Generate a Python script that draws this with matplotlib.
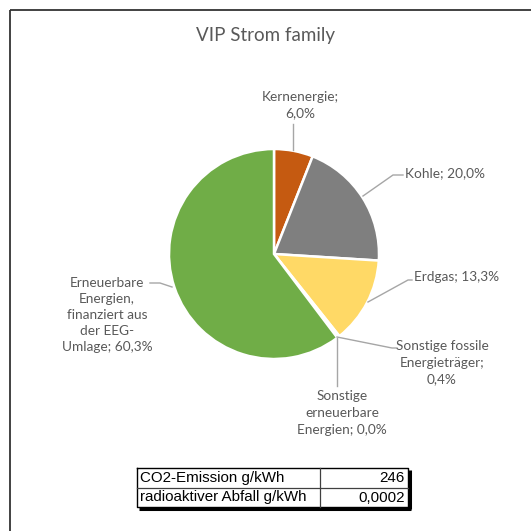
import matplotlib
matplotlib.use("Agg")
import matplotlib.pyplot as plt
import numpy as np

title = "VIP Strom family"
categories = ["Kernenergie", "Kohle", "Erdgas", "Sonstige fossile Energieträger",
              "Sonstige erneuerbare Energien", "Erneuerbare Energien, finanziert aus der EEG-Umlage"]
values = [6.0, 20.0, 13.3, 0.4, 0.0, 60.3]
colors = ["#C55A11", "#7F7F7F", "#FFD966", "#A5A5A5", "#4472C4", "#70AD47"]
label_texts = ["Kernenergie;\n6,0%", "Kohle; 20,0%", "Erdgas; 13,3%",
               "Sonstige fossile\nEnergieträger;\n0,4%",
               "Sonstige\nerneuerbare\nEnergien; 0,0%",
               "Erneuerbare\nEnergien,\nfinanziert aus\nder EEG-\nUmlage; 60,3%"]
table_rows = ["CO2-Emission g/kWh", "radioaktiver Abfall g/kWh"]
table_vals = ["246", "0,0002"]

W = H = 531
fig = plt.figure(figsize=(5.31, 5.31), dpi=100)
ax = fig.add_axes([0, 0, 1, 1])
ax.set_xlim(0, W)
ax.set_ylim(0, H)
ax.axis("off")

def Y(y):
    return H - y

# frame (top and left lines)
ax.plot([10, W], [Y(9.5), Y(9.5)], color="#333333", lw=1.3, solid_capstyle="butt")
ax.plot([10, 10], [Y(9.5), 0], color="#333333", lw=1.3, solid_capstyle="butt")

cx, cy, r = 274, 254, 105
ax.pie(values, colors=colors, startangle=90, counterclock=False,
       center=(cx, Y(cy)), radius=r,
       wedgeprops=dict(edgecolor="white", linewidth=1.8))
ax.set_aspect("equal")
ax.set_xlim(0, W)
ax.set_ylim(0, H)

ax.text(266, Y(36), title, ha="center", va="center", fontsize=13.5,
        color="#595959", family="Lato")

tc = "#595959"
fs = 9.8
lc = "#A6A6A6"
ls = 1.45
# label texts
ax.text(300, Y(105), label_texts[0], ha="center", va="center", fontsize=fs, color=tc,
        family="Lato", linespacing=ls)
ax.text(405, Y(173), label_texts[1], ha="left", va="center", fontsize=fs, color=tc, family="Lato")
ax.text(414, Y(277), label_texts[2], ha="left", va="center", fontsize=fs, color=tc, family="Lato")
ax.text(442, Y(363), label_texts[3], ha="center", va="center", fontsize=fs, color=tc,
        family="Lato", linespacing=ls)
ax.text(342, Y(413), label_texts[4], ha="center", va="center", fontsize=fs, color=tc,
        family="Lato", linespacing=ls)
ax.text(107, Y(315), label_texts[5], ha="center", va="center", fontsize=fs, color=tc,
        family="Lato", linespacing=1.38)

# leader lines
leaders = [
    [(293, 124), (293, 150)],
    [(403, 175), (393, 175), (363, 196)],
    [(412, 280), (408, 280), (368, 302)],
    [(397, 348), (392, 348), (337, 337)],
    [(337, 338), (337, 386)],
    [(150, 283), (160, 283), (172, 287)],
]
for pts in leaders:
    xs = [p[0] for p in pts]
    ys = [Y(p[1]) for p in pts]
    ax.plot(xs, ys, color=lc, lw=1.0)

# table
x0, x1, xm = 137, 408, 320
y0, ym, y1 = 468, 488, 507
# shadow
ax.plot([x1 + 1.5, x1 + 1.5], [Y(y0 + 2), Y(y1 + 1.5)], color="black", lw=2.2, solid_capstyle="butt")
ax.plot([x0 + 2, x1 + 2.5], [Y(y1 + 1.5), Y(y1 + 1.5)], color="black", lw=2.2, solid_capstyle="butt")
ax.plot([x0, x1, x1, x0, x0], [Y(y0), Y(y0), Y(y1), Y(y1), Y(y0)], color="black", lw=1.0)
ax.plot([x0, x1], [Y(ym), Y(ym)], color="#404040", lw=0.9)
ax.plot([xm, xm], [Y(y0), Y(y1)], color="#404040", lw=0.9)
tfs = 10.9
for i, (lab, val) in enumerate(zip(table_rows, table_vals)):
    yc = (y0 + ym) / 2 if i == 0 else (ym + y1) / 2
    ax.text(x0 + 3, Y(yc), lab, ha="left", va="center", fontsize=tfs,
            family="Liberation Sans", color="black")
    ax.text(x1 - 3, Y(yc), val, ha="right", va="center", fontsize=tfs,
            family="Liberation Sans", color="black")

fig.savefig("out.png", dpi=100, facecolor="white")
